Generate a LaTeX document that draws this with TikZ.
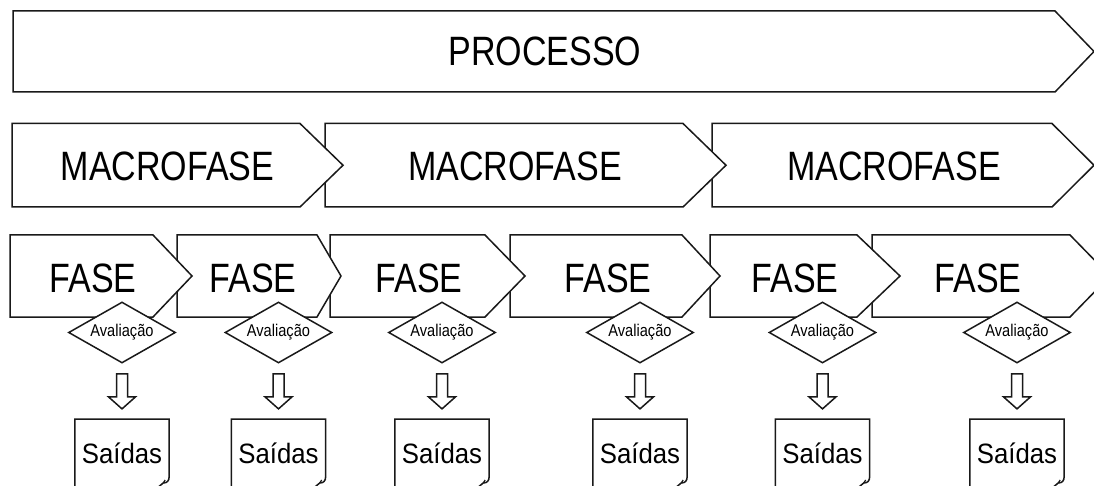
\documentclass[tikz,border=0pt]{standalone}
\usepackage{fontspec}
\setmainfont{Liberation Sans}
\usetikzlibrary{shapes.geometric,calc}

% horizontally condensed text
\newcommand\narrowtext[2]{\scalebox{#1}[1]{#2}}

% pentagon arrow box: left, end of straight edge, tip, top, bottom
\newcommand\chevronbox[5]{%
  \draw[outline] (#1,#4) -- (#2,#4) -- (#3,{(#4+#5)/2}) -- (#2,#5) -- (#1,#5) -- cycle;}

\tikzset{
  outline/.style={draw=black!90, line width=1.5pt, fill=white, line join=miter},
  biglabel/.style={inner sep=0pt, anchor=base, font=\fontsize{41}{41}\selectfont},
  evalbox/.style={diamond, aspect=1.75, draw=black!90, line width=1.5pt, fill=white,
    inner sep=0pt, minimum width=107pt, minimum height=61pt,
    font=\fontsize{17}{17}\selectfont},
  docnode/.style={inner sep=0pt, minimum width=94pt, minimum height=68pt,
    text height=20pt, text depth=0pt, font=\fontsize{28}{28}\selectfont},
  docline/.style={draw=black!90, line width=1.5pt, line join=miter},
  downarrow/.pic={
    \draw[outline] (-5.5,-17.5) -- (5.5,-17.5) -- (5.5,5.5) -- (13.5,5.5)
      -- (0,17.5) -- (-13.5,5.5) -- (-5.5,5.5) -- cycle;}
}

\begin{document}
\begin{tikzpicture}[x=1pt, y=-1pt]
  \useasboundingbox (0,0) rectangle (1094,486);
  \fill[white] (0,0) rectangle (1094,486);
  \clip (0,0) rectangle (1094,486);

  % process band
  \draw[outline] (13,11) -- (1055,11) -- (1094,51.5) -- (1055,92) -- (13,92) -- cycle;
  \node[biglabel] (proc) at (545,65.5) {\narrowtext{0.83}{PROCESSO}};

  % macro phases, drawn right to left so each tip lies over the next box
  \chevronbox{712}{1052}{1094}{123.5}{207}
  \chevronbox{325}{683}{726}{123.5}{207}
  \chevronbox{12}{300}{343}{123.5}{207}
  \node[biglabel] (m1) at (167.5,181) {\narrowtext{0.83}{MACROFASE}};
  \node[biglabel] (m2) at (515,181)   {\narrowtext{0.83}{MACROFASE}};
  \node[biglabel] (m3) at (894,181)   {\narrowtext{0.83}{MACROFASE}};

  % phases
  \chevronbox{872}{1070}{1110}{235}{317}
  \chevronbox{710}{857}{900}{235}{317}
  \chevronbox{510}{682}{720}{235}{317}
  \chevronbox{330}{485}{525}{235}{317}
  \chevronbox{177}{317}{341}{235}{317}
  \chevronbox{10}{153}{192}{235}{317}
  \node[biglabel] (f1) at (93,292)  {\narrowtext{0.83}{FASE}};
  \node[biglabel] (f2) at (253,292) {\narrowtext{0.83}{FASE}};
  \node[biglabel] (f3) at (419,292) {\narrowtext{0.83}{FASE}};
  \node[biglabel] (f4) at (608,292) {\narrowtext{0.83}{FASE}};
  \node[biglabel] (f5) at (795,292) {\narrowtext{0.83}{FASE}};
  \node[biglabel] (f6) at (978,292) {\narrowtext{0.83}{FASE}};

  % evaluation, arrow and outputs under each phase
  \foreach \i/\c in {1/122,2/278.5,3/442,4/640,5/822.5,6/1017} {
    \node[evalbox] (d\i) at (\c,332.5) {\narrowtext{0.86}{Avaliação}};
    \node[docnode, anchor=north] (s\i) at (\c,419) {\narrowtext{0.92}{Saídas}};
    \draw[docline] (s\i.south west) -- (s\i.north west) -- (s\i.north east)
      -- ($(s\i.north east)+(0,57)$)
      .. controls ($(s\i.north east)+(0,62)$) and ($(s\i.north east)+(-2,64)$)
      .. ($(s\i.north east)+(-6,64)$) -- ($(s\i.north east)+(-12,69)$);
    \draw[docline, line width=1.2pt] ($(s\i.north east)+(-6,64)$) -- ($(s\i.north east)+(-4,61)$);
    \pic at ($(d\i.south)!0.5!(s\i.north)$) {downarrow};
  }
\end{tikzpicture}
\end{document}
